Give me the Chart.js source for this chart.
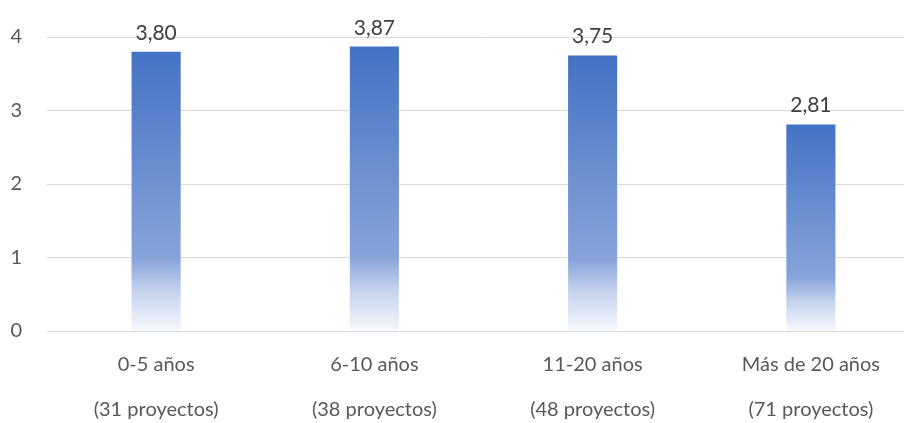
<!DOCTYPE html>
<html>
<head>
<meta charset="utf-8">
<script src="https://cdn.jsdelivr.net/npm/chart.js@4"></script>
<style>
  html, body { margin: 0; padding: 0; background: #fff; overflow: hidden; }
  #wrap { width: 920px; height: 423px; }
</style>
</head>
<body>
<div id="wrap"><canvas id="chart"></canvas></div>
<script>
const categories = [["0-5 años", "(31 proyectos)"], ["6-10 años", "(38 proyectos)"], ["11-20 años", "(48 proyectos)"], ["Más de 20 años", "(71 proyectos)"]];
const values = [3.80, 3.87, 3.75, 2.81];
const yTicks = [0, 1, 2, 3, 4];

const fontFamily = "Lato, 'Open Sans', sans-serif";

// gradient per bar: strong blue on top fading to white at the base
const barFill = (context) => {
  const chart = context.chart;
  if (!chart.chartArea || context.type !== "data") return "#4472C4";
  const y = chart.scales.y;
  const top = y.getPixelForValue(context.raw);
  const bottom = y.getPixelForValue(0);
  const g = chart.ctx.createLinearGradient(0, top, 0, bottom);
  g.addColorStop(0, "#4472C4");
  g.addColorStop(0.74, "#87A4DA");
  g.addColorStop(0.86, "#C6D4EE");
  g.addColorStop(1, "#F6F8FC");
  return g;
};

const valueLabels = {
  id: "valueLabels",
  afterDatasetsDraw(chart) {
    const ctx = chart.ctx;
    const meta = chart.getDatasetMeta(0);
    ctx.save();
    ctx.font = "21px " + fontFamily;
    ctx.fillStyle = "#404040";
    ctx.textAlign = "center";
    ctx.textBaseline = "alphabetic";
    meta.data.forEach((bar, i) => {
      ctx.fillText(values[i].toFixed(2).replace(".", ","), bar.x, bar.y - 12);
    });
    ctx.restore();
  }
};

new Chart(document.getElementById("chart"), {
  type: "bar",
  plugins: [valueLabels],
  data: {
    labels: categories,
    datasets: [{
      data: values,
      backgroundColor: barFill,
      categoryPercentage: 1,
      barPercentage: 0.225,
    }],
  },
  options: {
    responsive: true,
    maintainAspectRatio: false,
    animation: false,
    layout: { padding: { top: 37, left: 0, right: 0, bottom: 0 } },
    plugins: {
      legend: { display: false },
      tooltip: { enabled: false },
    },
    scales: {
      y: {
        min: 0,
        max: 4,
        afterBuildTicks: (scale) => { scale.ticks = yTicks.map(v => ({ value: v })); },
        afterFit: (scale) => { scale.width = 47; },
        border: { display: false },
        grid: { color: "#D9D9D9", drawTicks: false },
        ticks: {
          padding: 25,
          color: "#595959",
          font: { size: 20, family: fontFamily },
        },
      },
      x: {
        afterFit: (scale) => {
          scale.height = 92;
          scale.paddingLeft = 0;
          scale.paddingRight = 0;
        },
        border: { color: "#D9D9D9" },
        grid: { display: false, drawTicks: false },
        ticks: {
          padding: 11,
          maxRotation: 0,
          autoSkip: false,
          color: "#595959",
          font: { size: 20, family: fontFamily, lineHeight: 2.25 },
        },
      },
    },
  },
});
</script>
</body>
</html>
